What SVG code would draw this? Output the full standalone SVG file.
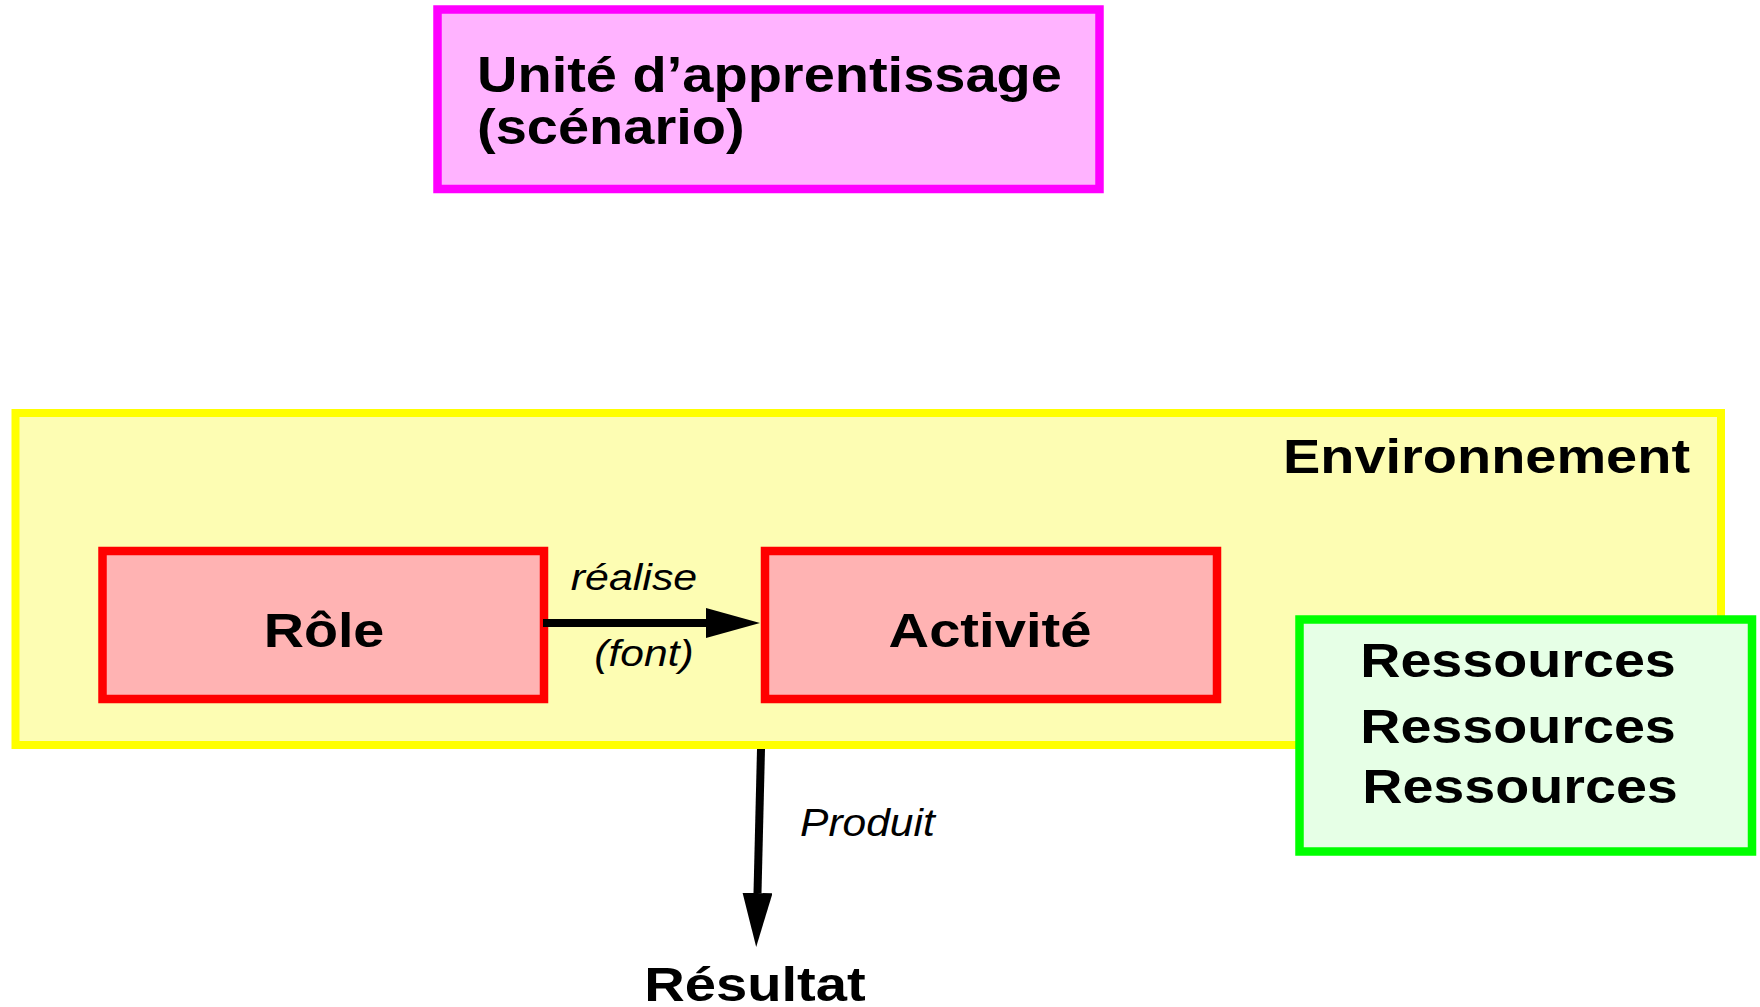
<svg xmlns="http://www.w3.org/2000/svg" width="1760" height="1007" viewBox="0 0 1760 1007">
  <style>
    .lbl { font-family: "Liberation Sans", Arial, Helvetica, sans-serif; font-weight: bold; font-size: 48px; fill: #000; }
    .title { font-size: 50px; }
    .edge { font-family: "Liberation Sans", Arial, Helvetica, sans-serif; font-style: italic; font-size: 37px; fill: #000; }
    .box { stroke-width: 8.5; }
    .conn { stroke: #000; stroke-width: 8; fill: none; }
  </style>
  <defs>
    <marker id="head" markerUnits="userSpaceOnUse" markerWidth="54" markerHeight="30" refX="0" refY="15" orient="auto" viewBox="0 0 54 30">
      <path d="M0,0 L54,15 L0,30 Z" fill="#000"/>
    </marker>
  </defs>

  <rect width="1760" height="1007" fill="#fff"/>

  <!-- Environment container -->
  <g id="environnement">
    <rect x="15.5" y="413" width="1705.5" height="332" fill="#FDFDB3" stroke="#FFFF00" stroke-width="8"/>
    <text class="lbl" text-anchor="end" transform="translate(1690,473) scale(1.165,1)">Environnement</text>
  </g>

  <!-- Learning unit -->
  <g id="unite">
    <rect class="box" x="437.5" y="9.5" width="662" height="179.5" fill="#FFB3FF" stroke="#FF00FF"/>
    <text class="lbl title" transform="translate(477,92) scale(1.12,1)">Unité d’apprentissage</text>
    <text class="lbl title" transform="translate(477,144) scale(1.12,1)">(scénario)</text>
  </g>

  <!-- Role -->
  <g id="role">
    <rect class="box" x="102.5" y="551" width="441.5" height="148" fill="#FFB3B3" stroke="#FF0000"/>
    <text class="lbl" text-anchor="middle" transform="translate(324,647) scale(1.16,1)">Rôle</text>
  </g>

  <!-- Activity -->
  <g id="activite">
    <rect class="box" x="765" y="551" width="452" height="148" fill="#FFB3B3" stroke="#FF0000"/>
    <text class="lbl" text-anchor="middle" transform="translate(990,647) scale(1.17,1)">Activité</text>
  </g>

  <!-- Resources -->
  <g id="ressources">
    <rect class="box" x="1299.5" y="619.5" width="452.5" height="232" fill="#E6FFE6" stroke="#00FF00"/>
    <text class="lbl" text-anchor="middle" transform="translate(1518,677) scale(1.16,1)">Ressources</text>
    <text class="lbl" text-anchor="middle" transform="translate(1518,743) scale(1.16,1)">Ressources</text>
    <text class="lbl" text-anchor="middle" transform="translate(1520,803) scale(1.16,1)">Ressources</text>
  </g>

  <!-- Result -->
  <g id="resultat">
    <text class="lbl" text-anchor="middle" transform="translate(755,1001) scale(1.17,1)">Résultat</text>
  </g>

  <!-- Connectors -->
  <g id="connectors">
    <line class="conn" x1="543" y1="623" x2="706" y2="623" marker-end="url(#head)"/>
    <text class="edge" text-anchor="middle" transform="translate(634,590) scale(1.16,1)">réalise</text>
    <text class="edge" text-anchor="middle" transform="translate(644,666) scale(1.15,1)">(font)</text>

    <line class="conn" x1="761" y1="749" x2="757.5" y2="893" marker-end="url(#head)"/>
    <text class="edge" style="font-size:38px" transform="translate(800,836) scale(1.12,1)">Produit</text>
  </g>
</svg>
